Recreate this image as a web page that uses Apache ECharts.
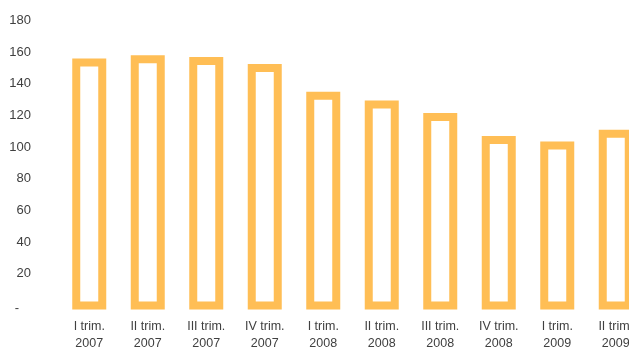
<!DOCTYPE html>
<html>
<head>
<meta charset="utf-8">
<script src="https://cdn.jsdelivr.net/npm/echarts@6/dist/echarts.min.js"></script>
<style>html,body{margin:0;padding:0;background:#fff;}#c{width:629px;height:348px;}</style>
</head>
<body>
<div id="c"></div>
<script>
const categories = ['I trim.\n2007','II trim.\n2007','III trim.\n2007','IV trim.\n2007','I trim.\n2008','II trim.\n2008','III trim.\n2008','IV trim.\n2008','I trim.\n2009','II trim.\n2009'];
const values = [153.5, 155.5, 154.5, 150, 132.5, 127, 119, 104.5, 101, 108.5];
const yTicks = { min: 0, max: 180, interval: 20 };

const FONT = '"Liberation Sans Narrow","Liberation Sans",sans-serif';
const BAR_W = 26;
const chart = echarts.init(document.getElementById('c'), null, {renderer:'canvas'});
chart.setOption({
  animation: false,
  grid: { left: 60, top: 20.5, width: 585, height: 285, outerBoundsMode: 'none', containLabel: false },
  xAxis: {
    type: 'category',
    data: categories,
    axisLine: { show: false },
    axisTick: { show: false },
    axisLabel: { color: '#404040', fontFamily: FONT, fontSize: 12.5, lineHeight: 17, margin: 13, interval: 0 }
  },
  yAxis: {
    type: 'value',
    min: yTicks.min, max: yTicks.max, interval: yTicks.interval,
    splitLine: { show: false },
    axisLine: { show: false },
    axisTick: { show: false },
    axisLabel: {
      color: '#404040', fontFamily: FONT, fontSize: 13, margin: 29,
      formatter: v => v === 0 ? '{d|-}' : String(v),
      rich: { d: { color: '#404040', fontFamily: FONT, fontSize: 13, padding: [6, 12, 0, 0] } }
    }
  },
  series: [{
    type: 'custom',
    data: values.map((v, i) => [i, v]),
    encode: { x: 0, y: 1 },
    clip: false,
    renderItem: (params, api) => {
      const top = api.coord([api.value(0), api.value(1)]);
      const base = api.coord([api.value(0), 0]);
      return {
        type: 'rect',
        shape: { x: top[0] - BAR_W / 2, y: top[1], width: BAR_W, height: base[1] - top[1] },
        style: { fill: '#ffffff', stroke: '#FFBE55', lineWidth: 8 }
      };
    }
  }]
});
</script>
</body>
</html>
